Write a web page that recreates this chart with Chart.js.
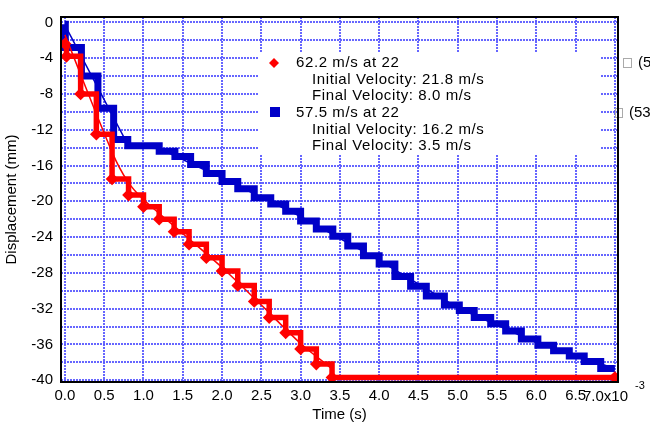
<!DOCTYPE html>
<html>
<head>
<meta charset="utf-8">
<style>
  html, body { margin: 0; padding: 0; background: #fff; }
  #wrap { width: 650px; height: 425px; }
</style>
<script src="https://cdn.jsdelivr.net/npm/chart.js"></script>
</head>
<body>
<div id="wrap"><canvas id="chart" width="650" height="425"></canvas></div>
<script>
// time in units of 10^-3 s, displacement in mm
// stepped data: each point = (time of drop, new level)
const redT = [0.0, 0.02, 0.2, 0.4, 0.6, 0.81, 1.0, 1.2, 1.39, 1.58, 1.8, 2.0, 2.2, 2.41, 2.6, 2.81, 3.0, 3.2, 3.4, 7.0];
const redD = [-2.4, -3.8, -8.0, -12.5, -17.5, -19.3, -20.6, -22.0, -23.4, -24.8, -26.3, -27.8, -29.4, -31.2, -33.0, -34.7, -36.5, -38.2, -39.7, -39.7];

const blueT = [0.0, 0.005, 0.21, 0.42, 0.62, 0.8, 1.2, 1.4, 1.6, 1.8, 2.0, 2.2, 2.41, 2.62, 2.81, 3.0, 3.2, 3.41, 3.6, 3.8,
               4.0, 4.2, 4.4, 4.6, 4.83, 5.02, 5.21, 5.42, 5.61, 5.81, 6.02, 6.22, 6.42, 6.61, 6.82, 7.0];
const blueD = [-0.2, -2.8, -6.0, -9.6, -13.1, -13.8, -14.4, -15.0, -15.9, -16.9, -17.8, -18.6, -19.6, -20.3, -21.1, -22.2, -23.1, -23.9, -25.0, -26.1,
               -27.0, -28.4, -29.5, -30.6, -31.6, -32.2, -33.0, -33.7, -34.5, -35.4, -36.1, -36.7, -37.3, -37.9, -38.7, -38.7];

// thin fitted curves
const redFitT = [0.0, 0.6, 0.8, 1.0, 1.5, 2.0, 2.5, 3.0, 3.38];
const redFitD = [-1.4, -14.5, -17.8, -19.8, -23.6, -27.4, -31.6, -35.9, -38.6];
const blueFitT = [0.0, 0.82, 1.2, 2.0, 3.0, 4.0, 5.0, 6.0, 7.0];
const blueFitD = [-0.3, -14.0, -14.1, -17.4, -21.7, -26.6, -31.9, -35.8, -38.7];

const legendLines = [
  ['62.2 m/s at 22', 'Initial Velocity: 21.8 m/s', 'Final Velocity: 8.0 m/s'],
  ['57.5 m/s at 22', 'Initial Velocity: 16.2 m/s', 'Final Velocity: 3.5 m/s']
];

const toXY = (xs, ys) => xs.map((x, i) => ({ x: x, y: ys[i] }));

const RED = '#ff0000';
const BLUE = '#0000c8';
const GRID = 'rgba(85,85,255,0.9)';
const FONT = "'Liberation Sans', Arial, sans-serif";

Chart.defaults.font.family = FONT;
Chart.defaults.font.size = 15;
Chart.defaults.color = '#000';

const extras = {
  id: 'extras',
  afterDraw(chart) {
    const ctx = chart.ctx;
    const a = chart.chartArea;
    ctx.save();

    // legend box (hides the grid under it)
    ctx.fillStyle = '#fff';
    ctx.fillRect(258, 53, 342, 102);

    ctx.fillStyle = RED;
    ctx.beginPath();
    ctx.moveTo(274, 58); ctx.lineTo(279, 63); ctx.lineTo(274, 68); ctx.lineTo(269, 63);
    ctx.closePath(); ctx.fill();
    ctx.fillStyle = BLUE;
    ctx.fillRect(270, 107, 10, 10);

    ctx.fillStyle = '#000';
    ctx.font = '15px ' + FONT;
    ctx.letterSpacing = '0.6px';
    ctx.textBaseline = 'middle';
    ctx.textAlign = 'left';
    const rows = [63, 80, 96, 113, 130, 146];
    legendLines.forEach((g, gi) => {
      g.forEach((s, li) => {
        ctx.fillText(s, li === 0 ? 296 : 312, rows[gi * 3 + li]);
      });
    });
    ctx.letterSpacing = '0px';

    // clipped entries beyond the right edge
    ctx.strokeStyle = '#aaa';
    ctx.lineWidth = 1;
    ctx.strokeRect(623.5, 58.5, 8, 9);
    ctx.strokeRect(615.5, 108.5, 7, 9);
    ctx.fillText('(5', 638, 63);
    ctx.fillText('(53', 629, 113);

    // frame
    ctx.strokeStyle = '#000';
    ctx.lineWidth = 2;
    ctx.strokeRect(a.left, a.top, a.right - a.left, a.bottom - a.top);

    // last x label with exponent
    ctx.fillText('7.0x10', 583, 397);
    ctx.font = '11px ' + FONT;
    ctx.fillText('-3', 635, 386);
    ctx.restore();
  }
};

new Chart(document.getElementById('chart'), {
  type: 'line',
  data: {
    datasets: [
      {
        data: toXY(redT, redD),
        borderColor: RED,
        backgroundColor: RED,
        borderWidth: 5.5,
        stepped: true,
        pointStyle: 'rectRot',
        pointRadius: 2.5,
        borderJoinStyle: 'miter'
      },
      {
        data: toXY(redFitT, redFitD),
        borderColor: RED,
        borderWidth: 1.5,
        pointRadius: 0,
        tension: 0.3
      },
      {
        data: toXY(blueT, blueD),
        borderColor: BLUE,
        backgroundColor: BLUE,
        borderWidth: 7,
        stepped: true,
        pointRadius: 0,
        borderJoinStyle: 'miter'
      },
      {
        data: toXY(blueFitT, blueFitD),
        borderColor: BLUE,
        borderWidth: 1.5,
        pointRadius: 0,
        tension: 0
      }
    ]
  },
  options: {
    responsive: false,
    animation: false,
    layout: { padding: { top: 9, right: 32, left: 0, bottom: 0 } },
    plugins: {
      legend: { display: false },
      tooltip: { enabled: false }
    },
    scales: {
      x: {
        type: 'linear',
        min: -0.05,
        max: 7.04,
        border: { display: false, dash: [2, 1] },
        grid: { color: GRID, lineWidth: 2, drawTicks: false },
        ticks: {
          stepSize: 0.5,
          includeBounds: false,
          padding: 5,
          maxRotation: 0,
          autoSkip: false,
          callback: v => (Math.abs(v - 7) < 1e-6 ? '' : v.toFixed(1))
        },
        title: { display: true, text: 'Time (s)', padding: { top: 0, bottom: 1 } },
        afterFit: s => { s.height = 43; }
      },
      y: {
        type: 'linear',
        min: -40.2,
        max: 0.6,
        border: { display: false, dash: [2, 1] },
        grid: { color: GRID, lineWidth: 2, drawTicks: false },
        ticks: {
          stepSize: 2,
          includeBounds: false,
          padding: 8,
          autoSkip: false,
          callback: v => (Math.round(v) % 4 === 0 ? String(Math.round(v)) : '')
        },
        title: { display: true, text: 'Displacement (mm)', padding: { top: 3, bottom: 0 } },
        afterFit: s => { s.width = 61; }
      }
    }
  },
  plugins: [extras]
});
</script>
</body>
</html>
